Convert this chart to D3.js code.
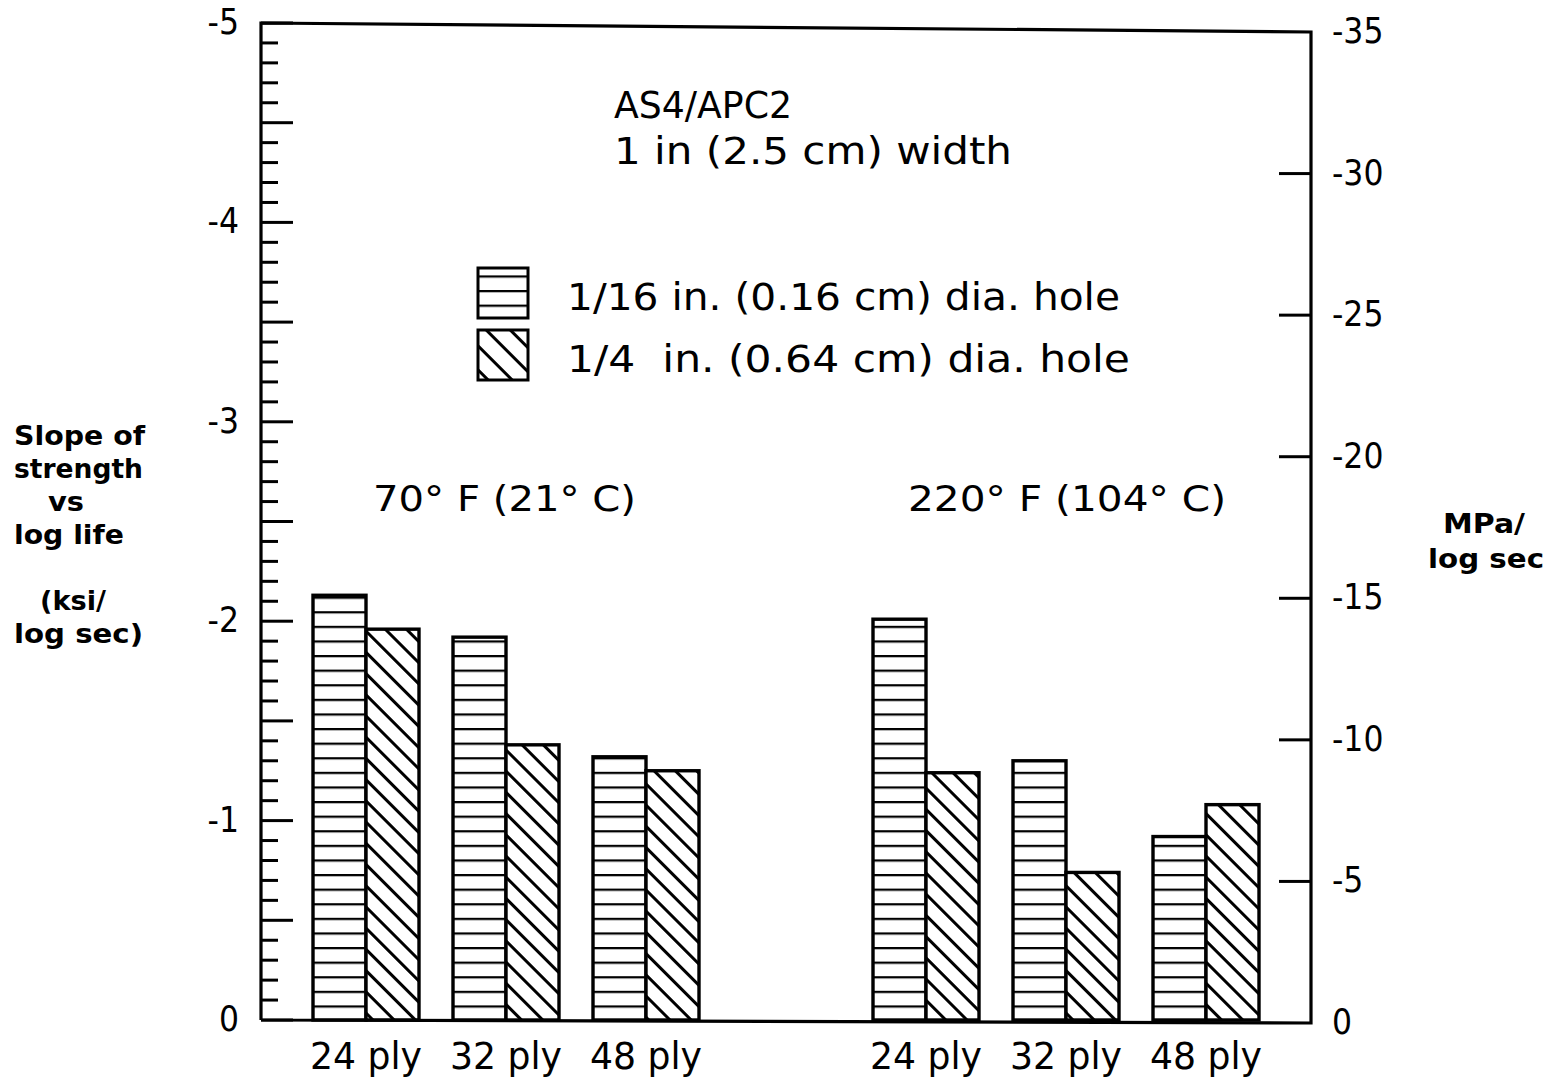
<!DOCTYPE html>
<html><head><meta charset="utf-8">
<script src="https://cdn.jsdelivr.net/npm/d3@7"></script>
<style>
html,body{margin:0;padding:0;background:#fff;}
text{font-family:"DejaVu Sans",sans-serif;fill:#000;}
</style></head>
<body>
<script>
// ---- data ----
const temperatures = ["70° F (21° C)", "220° F (104° C)"];
const plies = ["24 ply", "32 ply", "48 ply"];
const series = ["1/16 in. (0.16 cm) dia. hole", "1/4  in. (0.64 cm) dia. hole"];
const smallHole = [-2.13, -1.92, -1.32, -2.01, -1.30, -0.92]; // ksi/log sec
const largeHole = [-1.96, -1.38, -1.25, -1.24, -0.74, -1.08];
const leftTicks = [0, -1, -2, -3, -4, -5];
const rightTicks = [0, -5, -10, -15, -20, -25, -30, -35];
const titleLines = ["AS4/APC2", "1 in (2.5 cm) width"];
const leftLabel = ["Slope of", "strength", "vs", "log life", "", "(ksi/", "log sec)"];
const rightLabel = ["MPa/", "log sec"];

const W = 1559, H = 1081;
const svg = d3.select("body").append("svg").attr("width", W).attr("height", H);
const defs = svg.append("defs");
const fmt = d => String(d).replace("\u2212", "-");

// patterns
const ph = defs.append("pattern").attr("id","horiz").attr("patternUnits","userSpaceOnUse")
  .attr("width",20).attr("height",14.6).attr("y",1020);
ph.append("rect").attr("width",20).attr("height",14.6).attr("fill","#fff");
ph.append("line").attr("x1",0).attr("x2",20).attr("y1",0).attr("y2",0).attr("stroke","#000").attr("stroke-width",4.5);
const pd = defs.append("pattern").attr("id","diag").attr("patternUnits","userSpaceOnUse")
  .attr("width",15).attr("height",15).attr("patternTransform","rotate(45)");
pd.append("rect").attr("width",15).attr("height",15).attr("fill","#fff");
pd.append("line").attr("x1",0).attr("x2",15).attr("y1",7.5).attr("y2",7.5).attr("stroke","#000").attr("stroke-width",3);
const pl = defs.append("pattern").attr("id","diagL").attr("patternUnits","userSpaceOnUse")
  .attr("width",17).attr("height",17).attr("patternTransform","rotate(45)");
pl.append("rect").attr("width",17).attr("height",17).attr("fill","#fff");
pl.append("line").attr("x1",0).attr("x2",17).attr("y1",8.5).attr("y2",8.5).attr("stroke","#000").attr("stroke-width",3);

// scales
const x0 = 261, x1 = 1311, yTop = 23, yBot = 1020;
const y = d3.scaleLinear().domain([0, -5]).range([yBot, yTop]);
const yR = d3.scaleLinear().domain([0, -35]).range([yBot + 3, yTop + 9]);
const slots = [];
temperatures.forEach((t, ti) => { plies.forEach(p => slots.push(t + "|" + p)); if (ti === 0) slots.push("gap"); });
const xb = d3.scaleBand().domain(slots).range([296, 1276]).paddingInner(0).paddingOuter(0);
const xs = d3.scaleBand().domain(["small","large"]).range([17, 123]).padding(0);

const rows = [];
temperatures.forEach((t, ti) => plies.forEach((p, pi) => {
  const i = ti * 3 + pi;
  rows.push({key: t + "|" + p, s: "small", v: smallHole[i]});
  rows.push({key: t + "|" + p, s: "large", v: largeHole[i]});
}));

// bars
svg.append("g").selectAll("rect").data(rows).join("rect")
  .attr("x", d => xb(d.key) + xs(d.s))
  .attr("width", xs.bandwidth())
  .attr("y", d => y(d.v))
  .attr("height", d => y(0) - y(d.v))
  .attr("fill", d => d.s === "small" ? "url(#horiz)" : "url(#diag)")
  .attr("stroke", "#000").attr("stroke-width", 3.4);

// frame
svg.append("path").attr("d", `M${x0},${yBot} L${x0},${yTop} L${x1},${yTop+9} L${x1},${yBot+3} L${x0},${yBot}`)
  .attr("fill","none").attr("stroke","#000").attr("stroke-width",3.2);

const condensed = '"DejaVu Sans Condensed","DejaVu Sans",sans-serif';
// left axis
const yAxis = d3.axisLeft(y).tickValues(leftTicks).tickSize(0).tickPadding(22).tickFormat(d => fmt(d3.format("d")(d)));
const gL = svg.append("g").attr("transform", `translate(${x0},0)`).call(yAxis);
gL.select(".domain").remove();
gL.selectAll("text").style("font-size","35px").style("font-family", condensed).attr("dy","0.3em");
const minor = d3.range(0, 51).map(i => -i / 10);
svg.append("g").selectAll("line").data(minor).join("line")
  .attr("x1", x0).attr("x2", d => (Math.round(d*10) % 5 === 0) ? x0 + 32 : x0 + 17)
  .attr("y1", d => y(d)).attr("y2", d => y(d))
  .attr("stroke","#000").attr("stroke-width",3);

// right axis
const rAxis = d3.axisRight(yR).tickValues(rightTicks).tickSize(0).tickPadding(21).tickFormat(d => fmt(d3.format("d")(d)));
const gR = svg.append("g").attr("transform", `translate(${x1},0)`).call(rAxis);
gR.select(".domain").remove();
gR.selectAll("text").style("font-size","35px").style("font-family", condensed).attr("dy","0.3em");
svg.append("g").selectAll("line").data(rightTicks.slice(1, -1)).join("line")
  .attr("x1", x1).attr("x2", x1 - 32).attr("y1", d => yR(d)).attr("y2", d => yR(d))
  .attr("stroke","#000").attr("stroke-width",3);

function txt(x, yy, s, size, len, opts = {}) {
  const t = svg.append("text").attr("x", x).attr("y", yy).style("font-size", size + "px")
    .attr("xml:space","preserve").style("white-space","pre").text(s);
  if (len) t.attr("textLength", len).attr("lengthAdjust", "spacingAndGlyphs");
  if (opts.bold) t.style("font-weight", "bold");
  if (opts.anchor) t.attr("text-anchor", opts.anchor);
  if (opts.family) t.style("font-family", opts.family);
  return t;
}

// bottom labels
slots.filter(s => s !== "gap").forEach(s => {
  txt(xb(s) + 70, 1069, s.split("|")[1], 37, 112, {anchor: "middle", family: condensed});
});

// temperature labels
txt(373, 511, temperatures[0], 35, 263);
txt(908, 511, temperatures[1], 35, 318);

// title
txt(614, 118, titleLines[0], 37, 178);
txt(614, 164, titleLines[1], 37, 398);

// legend
series.forEach((s, i) => {
  const yy = 268 + i * 62;
  svg.append("rect").attr("x", 478).attr("y", yy).attr("width", 50).attr("height", 50)
    .attr("fill", i === 0 ? "url(#horiz)" : "url(#diagL)").attr("stroke","#000").attr("stroke-width",3);
  txt(567, yy + 42, s, 37, i === 0 ? 553 : 563);
});

// left label
const lx = [14, 14, 48, 14, 14, 40, 14];
const lw = [131, 129, 36, 110, 0, 66, 129];
leftLabel.forEach((t, i) => { if (t) txt(lx[i], 445 + i * 33, t, 27, lw[i], {bold: true}); });
// right label
txt(1443, 533, rightLabel[0], 27, 82, {bold: true});
txt(1428, 568, rightLabel[1], 27, 116, {bold: true});
</script>
</body></html>
